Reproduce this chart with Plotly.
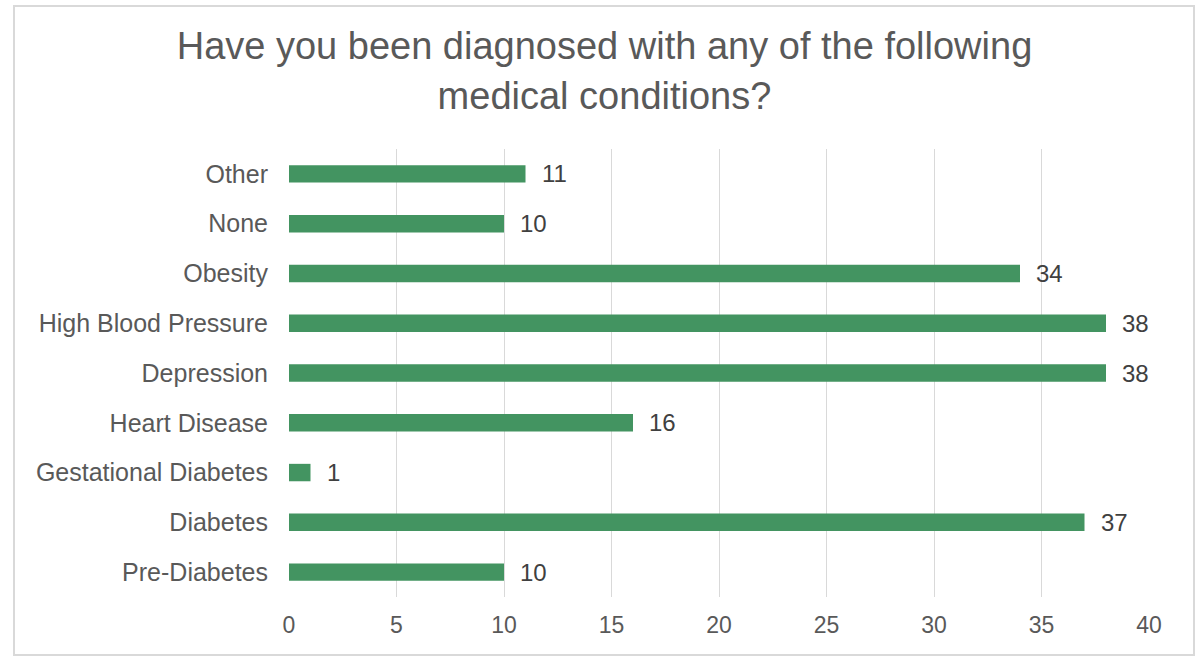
import plotly.graph_objects as go

categories = ["Pre-Diabetes", "Diabetes", "Gestational Diabetes", "Heart Disease",
              "Depression", "High Blood Pressure", "Obesity", "None", "Other"]
values = [10, 37, 1, 16, 38, 38, 34, 10, 11]
x_ticks = [0, 5, 10, 15, 20, 25, 30, 35, 40]

TEXT = "#595959"
FONT = "Liberation Sans, Arial, sans-serif"

fig = go.Figure()
fig.add_trace(go.Bar(
    x=values, y=categories, orientation="h",
    marker=dict(color="#439461", line=dict(width=0)),
    hoverinfo="skip",
))

for c, v in zip(categories, values):
    fig.add_annotation(x=v, y=c, text=str(v), showarrow=False, xanchor="left",
                       xshift=14, font=dict(family=FONT, size=24, color="#404040"))

L, R, T, B = 289, 48, 149, 60
W, H = 1197, 657
pw, ph = W - L - R, H - T - B

def px(xp):
    return (xp - L) / pw

def py(yp):
    return (H - B - yp) / ph

fig.add_shape(type="rect", xref="paper", yref="paper",
              x0=px(14), x1=px(1194), y0=py(655), y1=py(6),
              line=dict(color="#d9d9d9", width=2), fillcolor="rgba(0,0,0,0)", layer="below")

fig.update_layout(
    width=W, height=H,
    margin=dict(l=L, r=R, t=T, b=B),
    paper_bgcolor="white", plot_bgcolor="white",
    bargap=0.65,
    showlegend=False,
    title=dict(text="Have you been diagnosed with any of the following<br>medical conditions?",
               x=0.505, xanchor="center", y=0.91, yanchor="top",
               font=dict(family=FONT, size=38, color=TEXT)),
    font=dict(family=FONT, color=TEXT),
    xaxis=dict(range=[0, 40], tickvals=x_ticks, showgrid=True, gridcolor="#d9d9d9",
               gridwidth=1, zeroline=False, showline=False, ticks="",
               tickfont=dict(family=FONT, size=23, color=TEXT), ticklabelstandoff=12,
               fixedrange=True),
    yaxis=dict(showgrid=False, zeroline=False, showline=False, ticks="",
               tickfont=dict(family=FONT, size=25, color=TEXT), ticklabelstandoff=20,
               categoryorder="array", categoryarray=categories),
)

fig.write_html("out.html")
